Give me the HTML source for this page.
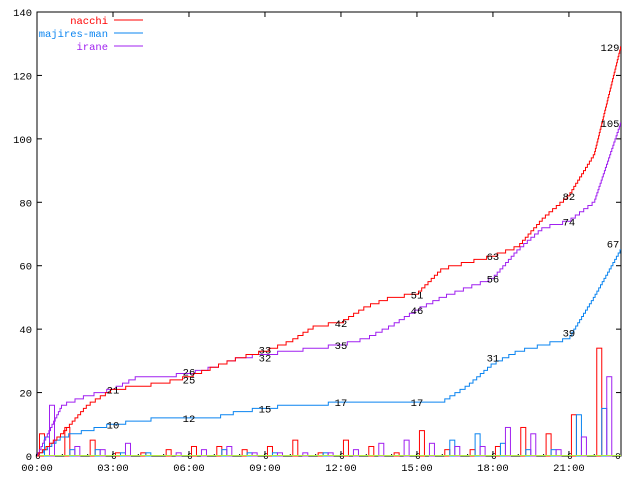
<!DOCTYPE html>
<html><head><meta charset="utf-8"><style>
html,body{margin:0;padding:0;background:#fff;width:640px;height:480px;overflow:hidden}
svg{display:block}
text{font-family:"Liberation Mono","DejaVu Sans Mono",monospace;font-size:10.5px}
</style></head><body>
<svg id="s" width="640" height="480" xmlns="http://www.w3.org/2000/svg"></svg>
<script>
var L=37,R=621,T=12,B=456,HW=25.33;
function X(h){return L+h*HW}
function Y(v){return B-v*(B-T)/140}
var red=[7,9,5,1,1,2,3,3,2,3,5,1,5,3,1,8,2,2,3,9,7,13,34];
var blu=[6,2,2,1,1,0,0,2,1,1,0,1,0,0,0,0,5,7,4,2,2,13,15];
var pur=[16,3,2,4,0,1,2,3,1,1,1,1,2,4,5,4,3,3,9,7,2,6,25];
var C={r:"#ff0000",b:"#0a84f0",p:"#a020f0"};
var o='';
// frame
o+='<rect x="'+L+'" y="'+T+'" width="'+(R-L)+'" height="'+(B-T)+'" fill="none" stroke="#000" stroke-width="1"/>';
// y ticks
for(var v=0;v<=140;v+=20){var y=Y(v);
o+='<line x1="'+L+'" y1="'+y+'" x2="'+(L+5)+'" y2="'+y+'" stroke="#000"/>';
o+='<line x1="'+R+'" y1="'+y+'" x2="'+(R-5)+'" y2="'+y+'" stroke="#000"/>';
o+='<text x="32" y="'+(y+4)+'" text-anchor="end">'+v+'</text>';}
// x ticks
for(var h=0;h<=21;h+=3){var x=X(h);
o+='<line x1="'+x+'" y1="'+B+'" x2="'+x+'" y2="'+(B-5)+'" stroke="#000"/>';
o+='<line x1="'+x+'" y1="'+T+'" x2="'+x+'" y2="'+(T+5)+'" stroke="#000"/>';
var lab=(h<10?'0':'')+h+':00';
o+='<text x="'+x+'" y="471" text-anchor="middle">'+lab+'</text>';
o+='<text x="'+(x+1)+'" y="'+(B+3)+'" text-anchor="middle" style="font-size:9px">0</text>';}
o+='<text x="'+(R-3)+'" y="'+(B+3)+'" text-anchor="middle" style="font-size:9px">0</text>';
for(var h=1;h<23;h++){if(h%3)o+='<rect x="'+(X(h)-0.5)+'" y="'+(B-2)+'" width="1" height="2" fill="#000"/>';}
// bars
function bars(a,off,c){for(var i=0;i<a.length;i++){if(!a[i])continue;var x=39+HW*i+off,y=Y(a[i]);
o+='<rect x="'+(x+0.5)+'" y="'+y+'" width="5" height="'+(B-y)+'" fill="none" stroke="'+c+'"/>';}}
bars(red,0,C.r);bars(blu,5,C.b);bars(pur,10,C.p);
o+='<line x1="'+L+'" y1="'+(B-0.5)+'" x2="'+R+'" y2="'+(B-0.5)+'" stroke="#b0ee40"/>';
// step lines
function line(a,c){var s=0,px=L,py=Y(0),d='M'+px+' '+py;
for(var i=0;i<a.length;i++){var n=a[i];var span=(i==22)?0.1+0.95:1;
for(var k=0;k<n;k++){var x=X(i+(k+0.5)/n*span);s++;var y=Y(s);d+=' H'+x.toFixed(1)+' V'+y.toFixed(1);}}
d+=' H'+R;o+='<path d="'+d+'" fill="none" stroke="'+c+'" stroke-width="1"/>';}
line(blu,C.b);line(pur,C.p);line(red,C.r);
// labels
var labs=[[3,21],[3,10],[6,26,-2],[6,25,3],[6,12],[9,33,-2],[9,32,3],[9,15],[12,42],[12,35],[12,17],[15,51],[15,46],[15,17],[18,63],[18,56],[18,31],[21,82],[21,74],[21,39]];
labs.forEach(function(l){o+='<text x="'+X(l[0])+'" y="'+(Y(l[1])+4+(l[2]||0))+'" text-anchor="middle">'+l[1]+'</text>';});
o+='<text x="610" y="'+(Y(129)+4)+'" text-anchor="middle">129</text>';
o+='<text x="610" y="'+(Y(105)+4)+'" text-anchor="middle">105</text>';
o+='<text x="613" y="'+(Y(67)+4)+'" text-anchor="middle">67</text>';
// legend
[["nacchi",C.r,20],["majires-man",C.b,33],["irane",C.p,46]].forEach(function(g){
o+='<text x="108" y="'+(g[2]+4)+'" text-anchor="end" fill="'+g[1]+'">'+g[0]+'</text>';
o+='<line x1="114" y1="'+g[2]+'" x2="143" y2="'+g[2]+'" stroke="'+g[1]+'"/>';});
document.getElementById('s').innerHTML=o;
</script>
</body></html>
